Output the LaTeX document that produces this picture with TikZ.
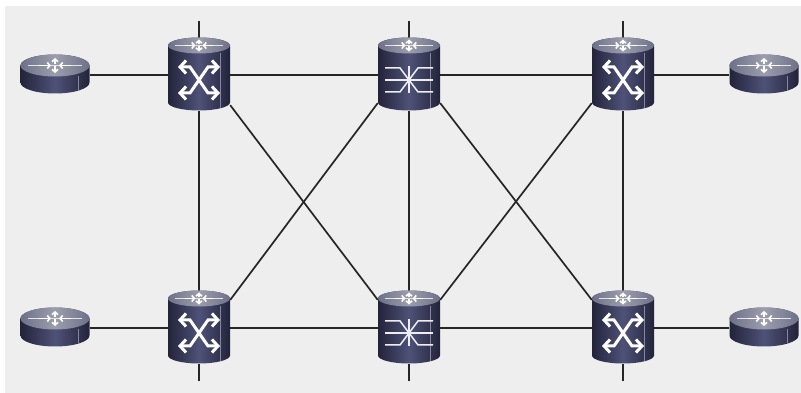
\documentclass[tikz,border=0pt]{standalone}
\usetikzlibrary{arrows.meta}
\definecolor{bgcol}{HTML}{EEEEEE}
\definecolor{devdark}{HTML}{23233A}
\definecolor{devmid}{HTML}{4F5278}
\definecolor{devtop}{HTML}{9C9EAD}
\definecolor{devrim}{HTML}{6E7088}
\tikzset{
	link/.style={line width=1.7pt, black!85},
	devbox/.style={inner sep=0pt, minimum width=62pt, minimum height=72pt},
	routerbox/.style={inner sep=0pt, minimum width=69pt, minimum height=39pt},
	mixline/.style={white!90!devmid, line width=1.5pt},
	swline/.style={white, line width=3pt, {Straight Barb[length=6pt,width=13pt]}-{Straight Barb[length=6pt,width=13pt]}},
	markline/.style={white!70!devtop, line width=0.8pt},
	markarrow/.style={white, line width=1.6pt, -{Straight Barb[length=2.6pt,width=6pt]}}
}
% body of a device: centre, half width, half height of the side, radius of the ends
\newcommand{\devbody}[4]{%
	\begin{scope}[shift={(#1)}, yshift=1pt]
		\shade[left color=devdark, right color=devdark, middle color=devmid]
			(-#2,#3) -- (-#2,-#3) arc[start angle=180, end angle=360, x radius=#2, y radius=#4]
			-- (#2,#3) arc[start angle=0, end angle=180, x radius=#2, y radius=#4] -- cycle;
		\draw[devmid!70!white, line width=0.5pt] (#2*0.68,#3-#4) -- (#2*0.68,-#3-#4*0.72);
		\shade[left color=devrim, right color=devrim, middle color=devtop] (0,#3) ellipse[x radius=#2, y radius=#4];
	\end{scope}%
}
% mark on the top of a device: centre, half width, height of the arrows, arrow start
\newcommand{\devmark}[4]{%
	\begin{scope}[shift={(#1)}, yshift=1pt]
		\draw[markline] (-#2,#4) -- (#2,#4);
		\draw[markarrow] (0,#4+1) -- (0,#4+#3);
		\draw[markarrow] (0,#4-1) -- (0,#4-#3);
		\draw[markarrow] (-#2*0.6,#4) -- (-#2*0.15,#4);
		\draw[markarrow] (#2*0.6,#4) -- (#2*0.15,#4);
	\end{scope}%
}
\newcommand{\routerdev}[1]{%
	\devbody{#1}{34.5}{8.5}{11}%
	\devmark{#1}{27}{7.5}{8.5}%
}
\newcommand{\switchdev}[1]{%
	\devbody{#1}{31}{28.5}{8}%
	\devmark{#1}{24}{6}{28.5}%
	\begin{scope}[shift={(#1)}, yshift=-5pt]
		\draw[swline] (-21,13) -- (-9,13) -- (9,-13) -- (21,-13);
		\draw[swline] (-21,-13) -- (-9,-13) -- (9,13) -- (21,13);
	\end{scope}%
}
\newcommand{\mixerdev}[1]{%
	\devbody{#1}{31}{28.5}{8}%
	\devmark{#1}{24}{6}{28.5}%
	\begin{scope}[shift={(#1)}, yshift=-5pt]
		\draw[mixline] (-24,12) -- (-9,12) -- (9,-12) -- (24,-12);
		\draw[mixline] (-24,-12) -- (-9,-12) -- (9,12) -- (24,12);
		\draw[mixline] (-24,0) -- (24,0);
		\draw[mixline] (0,14) -- (0,-13);
	\end{scope}%
}
\begin{document}
\begin{tikzpicture}[x=1pt,y=1pt]
	\useasboundingbox (0,0) rectangle (801,393);
	\fill[bgcol] (5,0) rectangle (801,387);
	% devices, the drawing comes after the links
	\node[routerbox] (r1) at (55,318) {};
	\node[routerbox] (r2) at (764,318) {};
	\node[routerbox] (r3) at (55,65) {};
	\node[routerbox] (r4) at (764,65) {};
	\node[devbox] (sw1) at (199,318) {};
	\node[devbox] (mx1) at (409,318) {};
	\node[devbox] (sw2) at (623,318) {};
	\node[devbox] (sw3) at (199,65) {};
	\node[devbox] (mx2) at (409,65) {};
	\node[devbox] (sw4) at (623,65) {};
	\coordinate (t1) at (199,372);
	\coordinate (t2) at (409,372);
	\coordinate (t3) at (623,372);
	\coordinate (b1) at (199,12);
	\coordinate (b2) at (409,12);
	\coordinate (b3) at (623,12);

	\foreach \a/\b in {r1/sw1,sw1/mx1,mx1/sw2,sw2/r2,r3/sw3,sw3/mx2,mx2/sw4,sw4/r4,
		t1/sw1,t2/mx1,t3/sw2,b1/sw3,b2/mx2,b3/sw4,sw1/sw3,mx1/mx2,sw2/sw4}
		\draw[link] (\a) -- (\b);
	\draw[link] (sw1.-44) -- (mx2.138);
	\draw[link] (mx1.222) -- (sw3.42);
	\draw[link] (mx1.-42) -- (sw4.138);
	\draw[link] (sw2.222) -- (mx2.42);

	\foreach \d in {r1,r2,r3,r4} {\routerdev{\d}}
	\foreach \d in {sw1,sw2,sw3,sw4} {\switchdev{\d}}
	\foreach \d in {mx1,mx2} {\mixerdev{\d}}
\end{tikzpicture}
\end{document}
